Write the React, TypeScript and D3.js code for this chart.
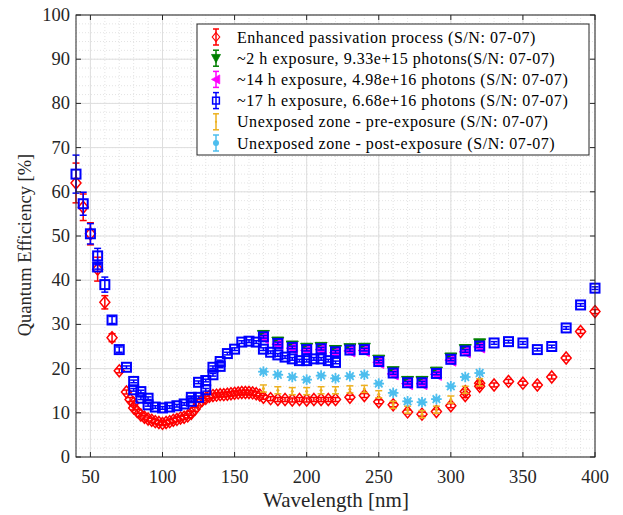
import React from "react";
import * as d3 from "d3";

const W = 623, H = 515;
const M = { left: 76, right: 595, top: 15, bottom: 457 };

// Enhanced passivation process (red diamonds)
const redWl = [40,45,50,55,60,65,70,75,77.5,80,80,82.5,85,87.5,90,92.5,95,97.5,100,102.5,105,107.5,110,112.5,115,117.5,120,122.5,125,127.5,130,132.5,135,137.5,140,142.5,145,147.5,150,152.5,155,157.5,160,162.5,165,167.5,170,175,180,185,190,195,200,205,210,215,220,230,240,250,260,270,280,290,300,310,310,320,320,330,340,350,360,370,380,390,400];
const redQE = [62,56.5,50.5,42.5,35,27,19.5,14.7,13,12.2,11.1,10.3,9.5,9,8.6,8.3,8.0,7.8,7.6,7.8,8.0,8.3,8.5,8.8,9.0,9.3,9.9,10.8,12,12.8,13.3,13.7,13.9,14,14.1,14.1,14.2,14.3,14.4,14.5,14.6,14.6,14.6,14.5,14.3,14,13.5,13.2,13,13,12.9,13,12.9,13,13,13,13,13.5,13.9,12.5,11.8,10.2,9.7,10.3,11.6,13.9,14.8,16,16.7,16.3,17.1,16.7,16.3,18.1,22.4,28.4,32.9];
const redErr = [4.5,3,2.5,2.7,1.5,0.9];

// Exposure series share these wavelengths
const expWl = [170,180,190,200,210,220,230,240,250,260,270,280,290,300,310,320];
const green2h = [27.5,26.0,25.1,24.6,24.8,24.1,24.5,24.6,21.9,19.3,17.1,17.1,19.2,22.4,24.3,25.6];
const magenta14h = [27.0,25.5,24.6,24.1,24.3,23.6,24.0,24.1,21.4,18.8,16.6,16.6,18.7,21.9,23.8,24.9];
const preExp = [15.5,15.1,14.9,14.9,15.1,15.1,15.3,15.4,14.2,11.8,10.7,9.7,10.7,13,15.2,16.9];
const postExp = [19.3,18.6,18.1,17.5,18.4,17.8,18.3,18.6,16.6,14.5,12.6,12.4,13.1,16,18.1,19];

// ~17 h exposure (blue squares)
const blueWl = [40,45,50,55,55,60,65,70,75,80,80,85,85,90,90,95,100,105,110,115,120,120,125,125,130,130,135,135,140,140,145,150,155,160,165,170,175,180,185,190,195,200,205,210,215,220,170,180,190,200,210,220,230,240,250,260,270,280,290,300,310,320,330,340,350,360,370,380,390,400];
const blueQE = [64,57.3,50.5,45.5,43,39,31,24.3,20.3,17.1,15.2,14.8,13.3,13.3,11.8,11.3,11.1,11.3,11.6,12,12.6,13.5,13.5,16.9,15.2,17.3,18.6,20.3,20.5,21.6,23.4,24.4,26,26.2,26,24.4,23.7,23.1,22.6,22.2,21.8,21.8,22.2,22.2,21.8,21.4,27.2,25.7,24.8,24.3,24.5,23.8,24.2,24.3,21.6,19.0,16.8,16.8,18.9,22.1,24.0,25.1,25.8,26.1,25.8,24.3,25,29.2,34.4,38.2];
const blueErr = [4.3,2.6,2.3,1.7,0.5,1.7,0.8,0.6];

const xTicks = [50,100,150,200,250,300,350,400];
const yTicks = [0,10,20,30,40,50,60,70,80,90,100];

const legendLabels = [
  "Enhanced passivation process (S/N: 07-07)",
  "~2 h exposure, 9.33e+15 photons(S/N: 07-07)",
  "~14 h exposure, 4.98e+16 photons (S/N: 07-07)",
  "~17 h exposure, 6.68e+16 photons (S/N: 07-07)",
  "Unexposed zone - pre-exposure (S/N: 07-07)",
  "Unexposed zone - post-exposure (S/N: 07-07)",
];

const C = {
  red: "#ff0000",
  green: "#007f00",
  magenta: "#ff00ff",
  blue: "#0000ff",
  orange: "#edb120",
  lblue: "#4dbeee",
};

const FONT = "'Times New Roman', Times, 'Liberation Serif', 'DejaVu Serif', serif";

const x = d3.scaleLinear().domain([40, 400]).range([M.left, M.right]);
const y = d3.scaleLinear().domain([0, 100]).range([M.bottom, M.top]);

type Marker = "diamond" | "down" | "left" | "square" | "dot" | "star";

function MarkerShape({ type, cx, cy, color }: { type: Marker; cx: number; cy: number; color: string }) {
  switch (type) {
    case "diamond":
      return <path d={`M${cx},${cy - 6}L${cx + 5},${cy}L${cx},${cy + 6}L${cx - 5},${cy}Z`} fill="none" stroke={color} strokeWidth={1.5} />;
    case "down":
      return <path d={`M${cx - 6},${cy - 5}L${cx + 6},${cy - 5}L${cx},${cy + 6}Z`} fill={color} stroke={color} strokeWidth={1} />;
    case "left":
      return <path d={`M${cx - 6},${cy}L${cx + 5},${cy - 6}L${cx + 5},${cy + 6}Z`} fill={color} stroke={color} strokeWidth={1} />;
    case "square":
      return <rect x={cx - 4.5} y={cy - 4.5} width={9} height={9} fill="none" stroke={color} strokeWidth={2} />;
    case "dot":
      return <circle cx={cx} cy={cy} r={1.5} fill={color} />;
    case "star": {
      const r = 5.3, rd = 3.8;
      return (
        <g stroke={color} strokeWidth={1.8}>
          <line x1={cx - r} y1={cy} x2={cx + r} y2={cy} />
          <line x1={cx} y1={cy - r} x2={cx} y2={cy + r} />
          <line x1={cx - rd} y1={cy - rd} x2={cx + rd} y2={cy + rd} />
          <line x1={cx - rd} y1={cy + rd} x2={cx + rd} y2={cy - rd} />
        </g>
      );
    }
  }
  return null;
}

function ErrBar({ cx, v, e, color, w = 1.5 }: { cx: number; v: number; e: number; color: string; w?: number }) {
  const y1 = y(v + e), y2 = y(v - e);
  return (
    <g stroke={color} strokeWidth={w}>
      <line x1={cx} x2={cx} y1={y1} y2={y2} />
      <line x1={cx - 3.5} x2={cx + 3.5} y1={y1} y2={y1} />
      <line x1={cx - 3.5} x2={cx + 3.5} y1={y2} y2={y2} />
    </g>
  );
}

function Series({ wl, vals, errs, defErr, color, marker }: { wl: number[]; vals: number[]; errs: number[]; defErr: number; color: string; marker: Marker }) {
  return (
    <g>
      {wl.map((w, i) => {
        const e = i < errs.length ? errs[i] : defErr;
        return (
          <g key={i}>
            <ErrBar cx={x(w)} v={vals[i]} e={e} color={color} />
            <MarkerShape type={marker} cx={x(w)} cy={y(vals[i])} color={color} />
          </g>
        );
      })}
    </g>
  );
}

export default function App() {
  const xMinor = d3.range(40, 401, 10);
  const yMinor = d3.range(0, 101, 2);
  const legendItems: { color: string; marker: Marker }[] = [
    { color: C.red, marker: "diamond" },
    { color: C.green, marker: "down" },
    { color: C.magenta, marker: "left" },
    { color: C.blue, marker: "square" },
    { color: C.orange, marker: "dot" },
    { color: C.lblue, marker: "dot" },
  ];
  const ts = { fontFamily: FONT };
  return (
    <svg width={W} height={H} style={{ position: "absolute", left: 0, top: 0, background: "#fff", fontFamily: FONT }}>
      <rect x={0} y={0} width={W} height={H} fill="#fff" />
      {/* minor grid */}
      <g stroke="#d8d8d8" strokeWidth={0.7} strokeDasharray="1,2">
        {xMinor.map((v) => (
          <line key={"xm" + v} x1={x(v)} x2={x(v)} y1={M.top} y2={M.bottom} />
        ))}
        {yMinor.map((v) => (
          <line key={"ym" + v} x1={M.left} x2={M.right} y1={y(v)} y2={y(v)} />
        ))}
      </g>
      {/* major grid */}
      <g stroke="#dedede" strokeWidth={1}>
        {xTicks.map((v) => (
          <line key={"xg" + v} x1={x(v)} x2={x(v)} y1={M.top} y2={M.bottom} />
        ))}
        {yTicks.map((v) => (
          <line key={"yg" + v} x1={M.left} x2={M.right} y1={y(v)} y2={y(v)} />
        ))}
      </g>
      <g>
        <Series wl={redWl} vals={redQE} errs={redErr} defErr={0.45} color={C.red} marker="diamond" />
        <Series wl={expWl} vals={green2h} errs={[0.7]} defErr={0.3} color={C.green} marker="down" />
        <Series wl={expWl} vals={magenta14h} errs={[]} defErr={0.3} color={C.magenta} marker="left" />
        <Series wl={blueWl} vals={blueQE} errs={blueErr} defErr={0.3} color={C.blue} marker="square" />
        <Series wl={expWl} vals={preExp} errs={[]} defErr={0.8} color={C.orange} marker="dot" />
        <Series wl={expWl} vals={postExp} errs={[]} defErr={0.3} color={C.lblue} marker="star" />
      </g>
      {/* axes box and ticks */}
      <g stroke="#262626" strokeWidth={1}>
        <rect x={M.left} y={M.top} width={M.right - M.left} height={M.bottom - M.top} fill="none" />
        {xTicks.map((v) => (
          <g key={"xt" + v}>
            <line x1={x(v)} x2={x(v)} y1={M.bottom} y2={M.bottom - 5} />
            <line x1={x(v)} x2={x(v)} y1={M.top} y2={M.top + 5} />
          </g>
        ))}
        {yTicks.map((v) => (
          <g key={"yt" + v}>
            <line x1={M.left} x2={M.left + 5} y1={y(v)} y2={y(v)} />
            <line x1={M.right} x2={M.right - 5} y1={y(v)} y2={y(v)} />
          </g>
        ))}
      </g>
      <g fontSize={18.5} fill="#262626">
        {xTicks.map((v) => (
          <text key={"xl" + v} style={ts} x={x(v)} y={M.bottom + 26} textAnchor="middle">{v}</text>
        ))}
        {yTicks.map((v) => (
          <text key={"yl" + v} style={ts} x={M.left - 6} y={y(v) + 6} textAnchor="end">{v}</text>
        ))}
      </g>
      <text style={ts} x={336} y={507} textAnchor="middle" fontSize={21} fill="#262626">Wavelength [nm]</text>
      <text style={ts} transform={`translate(31,245) rotate(-90)`} textAnchor="middle" fontSize={18.5} fill="#262626">Quantum Efficiency [%]</text>
      {/* legend */}
      <g>
        <rect x={197} y={24} width={392} height={131} fill="#fff" stroke="#262626" strokeWidth={1} />
        {legendItems.map((it, i) => {
          const cy = 37 + i * 21.2;
          return (
            <g key={"lg" + i}>
              <g stroke={it.color} strokeWidth={1.5}>
                <line x1={216} x2={216} y1={cy - 8} y2={cy + 8} />
                <line x1={213} x2={219} y1={cy - 8} y2={cy - 8} />
                <line x1={213} x2={219} y1={cy + 8} y2={cy + 8} />
              </g>
              {it.marker === "dot" && i === 5 ? (
                <circle cx={216} cy={cy} r={3} fill={it.color} />
              ) : (
                <g transform={`translate(216,${cy}) scale(0.75) translate(-216,${-cy})`}>
                  <MarkerShape type={it.marker} cx={216} cy={cy} color={it.color} />
                </g>
              )}
              <text style={{ ...ts, letterSpacing: "0.55px" }} x={237} y={cy + 5.5} fontSize={16} fill="#000">{legendLabels[i]}</text>
            </g>
          );
        })}
      </g>
    </svg>
  );
}
